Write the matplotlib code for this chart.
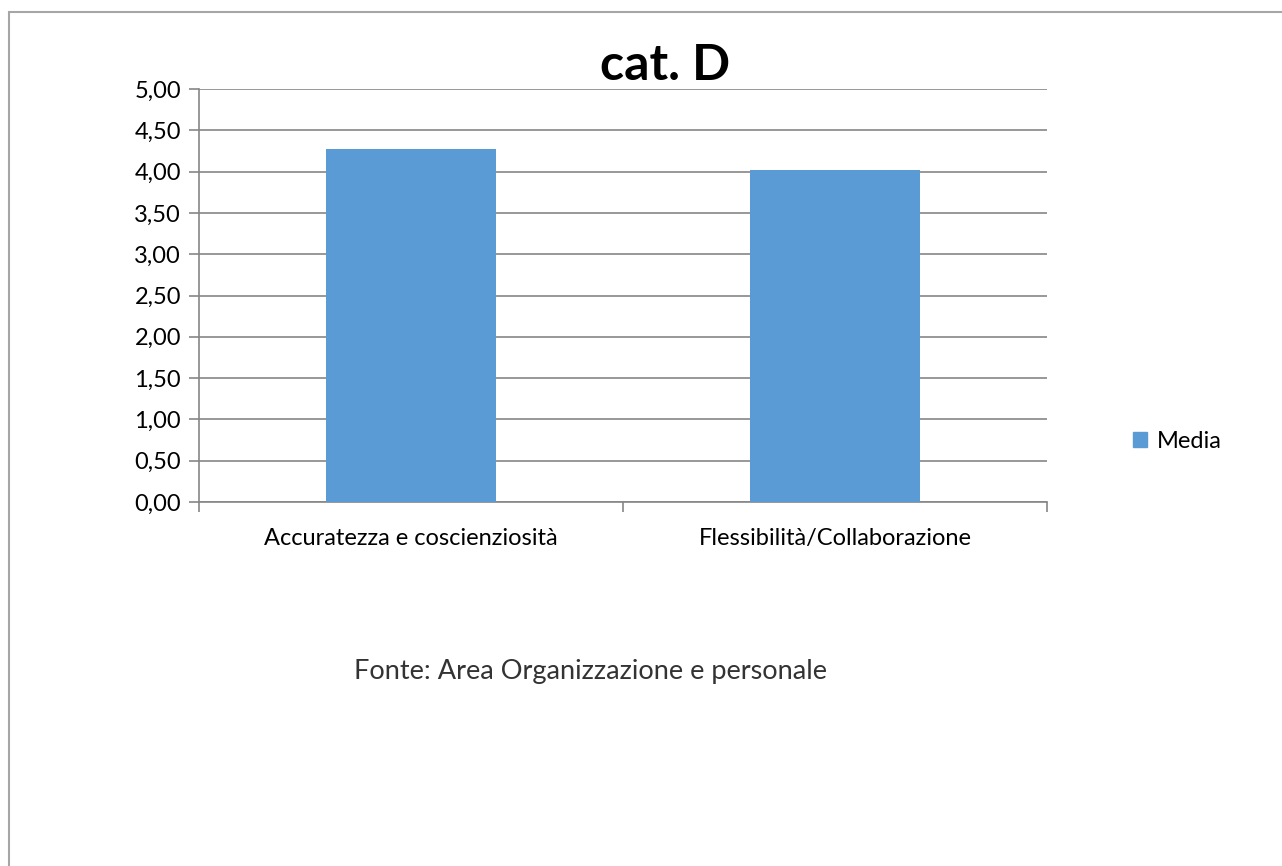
import matplotlib
matplotlib.use('Agg')
import matplotlib.pyplot as plt
import matplotlib.patches as mpatches
import numpy

# data
categories = ['Accuratezza e coscienziosità', 'Flessibilità/Collaborazione']
media = [4.27, 4.02]
yticks = [0.0, 0.5, 1.0, 1.5, 2.0, 2.5, 3.0, 3.5, 4.0, 4.5, 5.0]

plt.rcParams['font.family'] = ['Lato', 'DejaVu Sans']
W, H = 1282, 866
fig = plt.figure(figsize=(W/100, H/100), dpi=100)

# outer frame (runs off the right and bottom edges)
fig.patches.append(mpatches.Rectangle((9/W, -0.5), 1.5, 1.5-12/H, transform=fig.transFigure,
                                      fill=False, edgecolor='#a6a6a6', linewidth=1.5))

ax = fig.add_axes([199/W, 1-502/H, (1047-199)/W, (502-89)/H])
x = numpy.arange(len(categories))
ax.bar(x, media, width=0.4, color='#5b9bd5', label='Media', zorder=3)
ax.set_xlim(-0.5, len(categories)-0.5)
ax.set_ylim(0, 5)
ax.set_yticks(yticks)
ax.set_yticklabels([('%.2f' % v).replace('.', ',') for v in yticks], fontsize=17)
ax.grid(axis='y', color='#868686', linewidth=1.2, zorder=0)
ax.set_xticks([-0.5, 0.5, 1.5])
ax.set_xticklabels([])
ax.tick_params(axis='x', length=7, color='#868686', width=1.2)
ax.tick_params(axis='y', length=7, color='#868686', width=1.2, pad=6)
for i, c in enumerate(categories):
    ax.text(x[i], -0.32, c, ha='center', va='top', fontsize=17)
for s in ['top', 'right']:
    ax.spines[s].set_visible(False)
for s in ['left', 'bottom']:
    ax.spines[s].set_color('#868686')
    ax.spines[s].set_linewidth(1.2)

fig.text(665/W, 1-66/H, 'cat. D', ha='center', va='center', fontsize=36, fontweight='bold')
fig.legend(handles=[mpatches.Patch(color='#5b9bd5', label='Media')], loc='center left',
           bbox_to_anchor=(1112/W, 1-441/H), frameon=False, fontsize=17,
           handlelength=0.6, handleheight=0.6, handletextpad=0.4)
fig.text(591/W, 1-672/H, 'Fonte: Area Organizzazione e personale', ha='center', va='center',
         fontsize=19.5, color='#333333')

fig.savefig('out.png', dpi=100)
